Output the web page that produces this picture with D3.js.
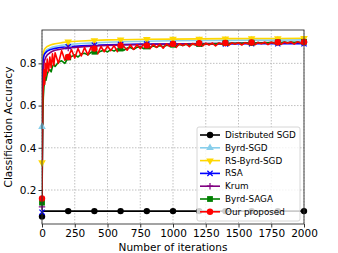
<!DOCTYPE html>
<html>
<head>
<meta charset="utf-8">
<script src="https://cdn.jsdelivr.net/npm/d3@7"></script>
<style>
  body { margin: 0; background: #fff; }
  svg { display: block; font-family: "DejaVu Sans", sans-serif; }
</style>
</head>
<body>
<div id="chart"></div>
<script>
// Sampling grids (iterations)
const iterSmooth = [0, 5, 10, 15, 20, 30, 40, 60, 80, 100, 150, 200, 300, 400, 500, 600, 800, 1000, 1200, 1400, 1600, 1800, 2000];
const iterNoisy = [0, 3, 6, 10, 15, 20, 25, 30, 40, 50, 60, 70, 80, 90, 100,
  125, 150, 175, 200, 225, 250, 275, 300, 325, 350, 375, 400,
  425, 450, 475, 500, 525, 550, 575, 600, 625, 650, 675, 700, 725, 750, 775, 800,
  825, 850, 875, 900, 925, 950, 975, 1000, 1025, 1050, 1075, 1100, 1125, 1150, 1175, 1200,
  1225, 1250, 1275, 1300, 1325, 1350, 1375, 1400, 1425, 1450, 1475, 1500, 1525, 1550, 1575, 1600,
  1625, 1650, 1675, 1700, 1725, 1750, 1775, 1800, 1825, 1850, 1875, 1900, 1925, 1950, 1975, 2000];

// Accuracy values
const distSGD = [0.075, 0.1, 0.1, 0.1, 0.1, 0.1, 0.1, 0.1, 0.1, 0.1, 0.1, 0.1, 0.1, 0.1, 0.1, 0.1, 0.1, 0.1, 0.1, 0.1, 0.1, 0.1, 0.1];
const byrdSGD = [0.5, 0.78, 0.83, 0.845, 0.852, 0.86, 0.866, 0.872, 0.877, 0.88, 0.886, 0.889, 0.894, 0.897, 0.9, 0.902, 0.905, 0.907, 0.908, 0.909, 0.91, 0.91, 0.911];
const rsByrdSGD = [0.33, 0.8, 0.845, 0.86, 0.868, 0.875, 0.88, 0.886, 0.89, 0.893, 0.898, 0.902, 0.906, 0.909, 0.911, 0.912, 0.914, 0.915, 0.916, 0.917, 0.918, 0.918, 0.919];
const rsa = [0.095, 0.75, 0.82, 0.838, 0.845, 0.852, 0.858, 0.864, 0.868, 0.871, 0.876, 0.879, 0.883, 0.886, 0.888, 0.889, 0.891, 0.892, 0.892, 0.892, 0.893, 0.893, 0.893];
const krum = [0.12, 0.6, 0.76, 0.8, 0.815, 0.83, 0.84, 0.85, 0.857, 0.862, 0.868, 0.873, 0.878, 0.882, 0.885, 0.887, 0.89, 0.892, 0.894, 0.895, 0.897, 0.898, 0.899];
const byrdSAGA = [0.14, 0.35, 0.55, 0.64, 0.69, 0.71, 0.735, 0.72, 0.75, 0.765, 0.77, 0.76, 0.785, 0.795, 0.785,
  0.805, 0.812, 0.8, 0.828, 0.832, 0.84, 0.83, 0.845, 0.848, 0.84, 0.852, 0.855,
  0.85, 0.858, 0.862, 0.854, 0.865, 0.858, 0.868, 0.87, 0.862, 0.872, 0.875, 0.867, 0.876, 0.878, 0.87, 0.88,
  0.876, 0.882, 0.876, 0.884, 0.879, 0.886, 0.883, 0.888, 0.882, 0.889, 0.885, 0.89, 0.886, 0.891, 0.888, 0.892,
  0.889, 0.893, 0.89, 0.894, 0.891, 0.895, 0.892, 0.896, 0.893, 0.896, 0.894, 0.897, 0.894, 0.898, 0.895, 0.898,
  0.896, 0.899, 0.896, 0.899, 0.897, 0.9, 0.897, 0.9, 0.898, 0.901, 0.898, 0.901, 0.899, 0.901, 0.899, 0.902];
const proposed = [0.16, 0.45, 0.63, 0.70, 0.77, 0.70, 0.80, 0.74, 0.82, 0.76, 0.83, 0.78, 0.845, 0.79, 0.85,
  0.80, 0.86, 0.815, 0.83, 0.865, 0.825, 0.87, 0.835, 0.875, 0.84, 0.878, 0.87,
  0.845, 0.88, 0.855, 0.882, 0.86, 0.884, 0.855, 0.885, 0.88, 0.862, 0.887, 0.866, 0.888, 0.87, 0.889, 0.885,
  0.87, 0.89, 0.876, 0.891, 0.872, 0.892, 0.88, 0.892, 0.876, 0.893, 0.884, 0.893, 0.879, 0.894, 0.886, 0.895,
  0.882, 0.895, 0.887, 0.896, 0.883, 0.896, 0.89, 0.897, 0.885, 0.897, 0.891, 0.898, 0.887, 0.898, 0.892, 0.899,
  0.888, 0.899, 0.893, 0.9, 0.889, 0.9, 0.894, 0.9, 0.89, 0.901, 0.895, 0.901, 0.891, 0.902, 0.896, 0.901];

const xTicks = [0, 250, 500, 750, 1000, 1250, 1500, 1750, 2000];
const yTicks = [0.2, 0.4, 0.6, 0.8];

const series = [
  { name: 'Distributed SGD', x: iterSmooth, y: distSGD, color: '#000000', marker: 'circle' },
  { name: 'Byrd-SGD', x: iterSmooth, y: byrdSGD, color: '#87ceeb', marker: 'triangleUp' },
  { name: 'RS-Byrd-SGD', x: iterSmooth, y: rsByrdSGD, color: '#ffd700', marker: 'triangleDown' },
  { name: 'RSA', x: iterSmooth, y: rsa, color: '#0000ff', marker: 'x' },
  { name: 'Krum', x: iterSmooth, y: krum, color: '#800080', marker: 'plus' },
  { name: 'Byrd-SAGA', x: iterNoisy, y: byrdSAGA, color: '#008000', marker: 'square' },
  { name: 'Our proposed', x: iterNoisy, y: proposed, color: '#ff0000', marker: 'circle' },
];

const W = 338, H = 253;
const m = { left: 42, right: 34, top: 30, bottom: 29 };

const svg = d3.select('#chart').append('svg').attr('width', W).attr('height', H);

const x = d3.scaleLinear().domain([0, 2000]).range([m.left, W - m.right]);
const y = d3.scaleLinear().domain([0.039, 0.958]).range([H - m.bottom, m.top]);

// Grid
const grid = svg.append('g').attr('stroke', '#b0b0b0').attr('stroke-width', 0.8).attr('stroke-dasharray', '1.5,1.5');
grid.selectAll('.gx').data(xTicks).enter().append('line')
  .attr('x1', (d) => x(d)).attr('x2', (d) => x(d))
  .attr('y1', m.top).attr('y2', H - m.bottom);
grid.selectAll('.gy').data(yTicks).enter().append('line')
  .attr('y1', (d) => y(d)).attr('y2', (d) => y(d))
  .attr('x1', m.left).attr('x2', W - m.right);

// Clip
svg.append('defs').append('clipPath').attr('id', 'clip')
  .append('rect').attr('x', m.left).attr('y', m.top)
  .attr('width', W - m.left - m.right).attr('height', H - m.top - m.bottom);

const plot = svg.append('g').attr('clip-path', 'url(#clip)');

function drawMarker(g, type, color, s) {
  if (type === 'circle') {
    g.append('circle').attr('r', s * 0.55).attr('fill', color);
  } else if (type === 'square') {
    g.append('rect').attr('x', -s * 0.5).attr('y', -s * 0.5).attr('width', s).attr('height', s).attr('fill', color);
  } else if (type === 'triangleUp') {
    g.append('path').attr('d', d3.symbol(d3.symbolTriangle, s * s * 0.75)()).attr('fill', color);
  } else if (type === 'triangleDown') {
    g.append('path').attr('d', d3.symbol(d3.symbolTriangle, s * s * 0.75)()).attr('transform', 'rotate(180)').attr('fill', color);
  } else if (type === 'x') {
    const h = s * 0.45;
    g.append('path').attr('d', `M${-h},${-h}L${h},${h}M${-h},${h}L${h},${-h}`).attr('stroke', color).attr('stroke-width', 1.2);
  } else if (type === 'plus') {
    const h = s * 0.55;
    g.append('path').attr('d', `M${-h},0L${h},0M0,${-h}L0,${h}`).attr('stroke', color).attr('stroke-width', 1.2);
  }
}

const line = d3.line().x((d) => x(d[0])).y((d) => y(d[1]));

series.forEach((s) => {
  const pts = s.x.map((xi, i) => [xi, s.y[i]]);
  plot.append('path').datum(pts)
    .attr('fill', 'none').attr('stroke', s.color).attr('stroke-width', 1.6)
    .attr('stroke-linejoin', 'round').attr('d', line);
  pts.filter((p) => p[0] % 200 === 0).forEach((p) => {
    const g = svg.append('g').attr('transform', `translate(${x(p[0])},${y(p[1])})`);
    drawMarker(g, s.marker, s.color, 5.8);
  });
});

// Frame
svg.append('rect').attr('x', m.left).attr('y', m.top)
  .attr('width', W - m.left - m.right).attr('height', H - m.top - m.bottom)
  .attr('fill', 'none').attr('stroke', '#333').attr('stroke-width', 0.9);

// Axes
const xAxis = svg.append('g').attr('transform', `translate(0,${H - m.bottom})`)
  .call(d3.axisBottom(x).tickValues(xTicks).tickSize(3.5).tickPadding(2).tickFormat(d3.format('d')));
const yAxis = svg.append('g').attr('transform', `translate(${m.left},0)`)
  .call(d3.axisLeft(y).tickValues(yTicks).tickSize(3.5).tickPadding(2).tickFormat(d3.format('.1f')));
[xAxis, yAxis].forEach((a) => {
  a.select('.domain').remove();
  a.selectAll('line').attr('stroke', '#333');
  a.selectAll('text').attr('font-size', 10.5).attr('fill', '#000').attr('font-family', '"DejaVu Sans", sans-serif');
});

svg.append('text').attr('x', (m.left + W - m.right) / 2).attr('y', 251)
  .attr('text-anchor', 'middle').attr('font-size', 10.5).text('Number of iterations');
svg.append('text').attr('transform', `translate(12,${(m.top + H - m.bottom) / 2}) rotate(-90)`)
  .attr('text-anchor', 'middle').attr('font-size', 10.5).text('Classification Accuracy');

// Legend
const lg = svg.append('g').attr('transform', 'translate(197,127)');
lg.append('rect').attr('width', 103).attr('height', 94).attr('rx', 2)
  .attr('fill', '#fff').attr('fill-opacity', 0.8).attr('stroke', '#ccc').attr('stroke-width', 0.8);
series.forEach((s, i) => {
  const row = lg.append('g').attr('transform', `translate(0,${8 + i * 12.8})`);
  row.append('line').attr('x1', 3).attr('x2', 23).attr('stroke', s.color).attr('stroke-width', 1.6);
  drawMarker(row.append('g').attr('transform', 'translate(13,0)'), s.marker, s.color, 5.8);
  row.append('text').attr('x', 28).attr('y', 3).attr('font-size', 8.8).text(s.name);
});
</script>
</body>
</html>
